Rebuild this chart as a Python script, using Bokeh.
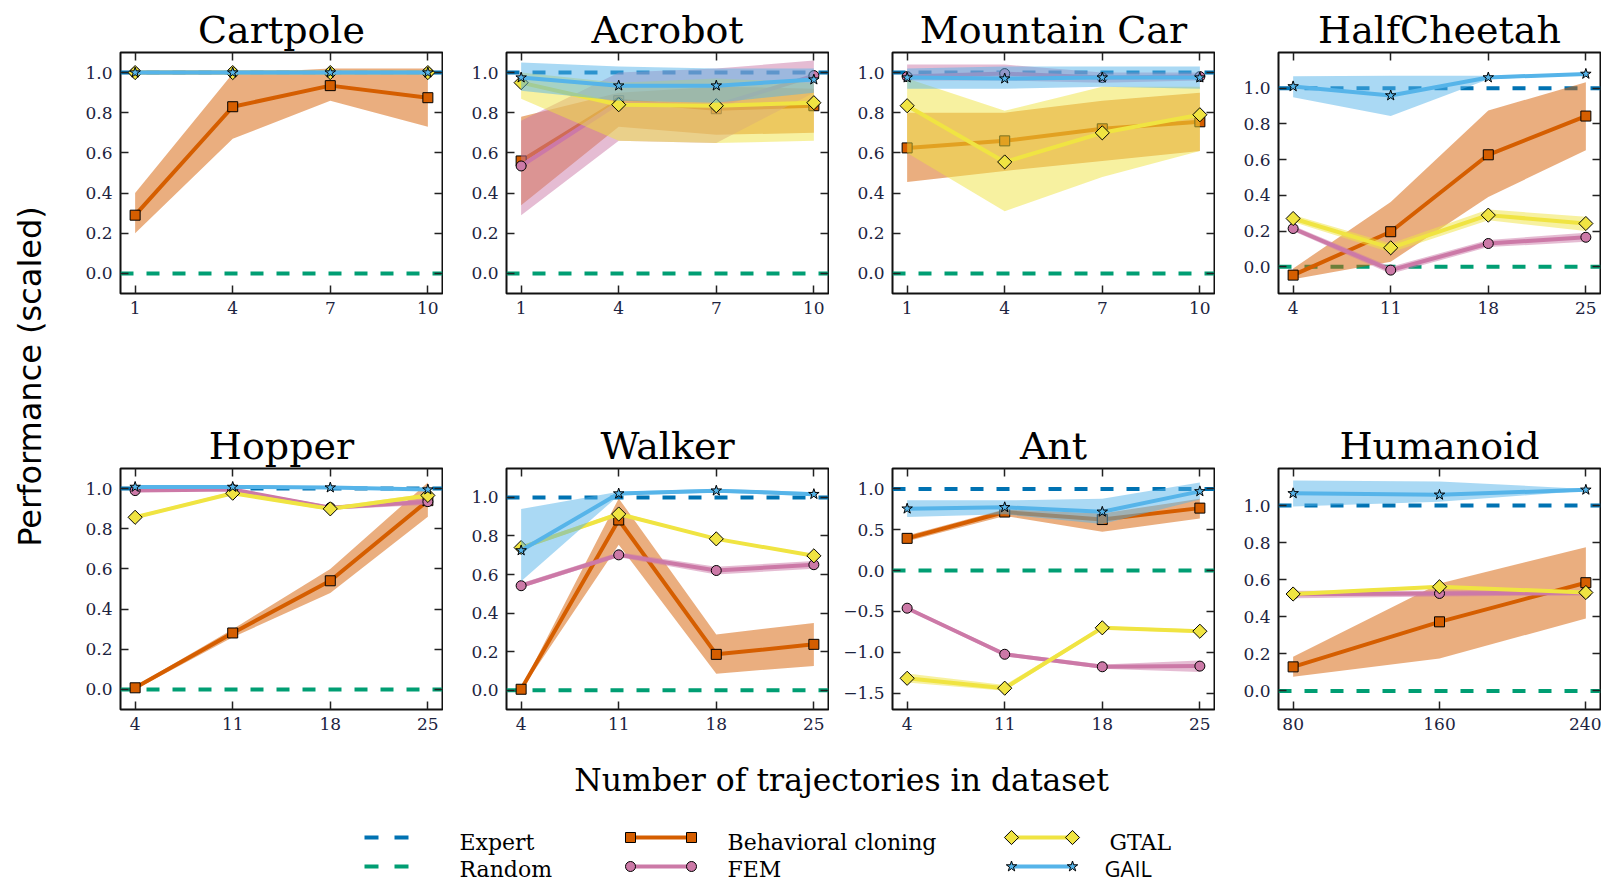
import math
from bokeh.plotting import figure
from bokeh.models import Range1d, FixedTicker, LinearAxis, CustomJSTickFormatter, Span
from bokeh.layouts import row, column
from bokeh.embed import file_html
from bokeh.resources import INLINE
from bokeh.core.properties import value

# ---------------- data ----------------
expert_level = 1.0
random_level = 0.0

env_names = ["Cartpole", "Acrobot", "Mountain Car", "HalfCheetah",
             "Hopper", "Walker", "Ant", "Humanoid"]

# Cartpole
cartpole_x = [1, 4, 7, 10]
cartpole_bc = [0.29, 0.83, 0.935, 0.875]
cartpole_bc_lo = [0.20, 0.67, 0.86, 0.73]
cartpole_bc_hi = [0.40, 0.995, 1.02, 1.02]
cartpole_fem = [1.0, 1.0, 1.0, 1.0]
cartpole_fem_lo = [0.995, 0.995, 0.995, 0.995]
cartpole_fem_hi = [1.005, 1.005, 1.005, 1.005]
cartpole_gtal = [1.0, 1.0, 1.0, 1.0]
cartpole_gtal_lo = [0.995, 0.995, 0.995, 0.995]
cartpole_gtal_hi = [1.005, 1.005, 1.005, 1.005]
cartpole_gail = [1.0, 1.0, 1.0, 1.0]
cartpole_gail_lo = [0.99, 0.99, 0.99, 0.99]
cartpole_gail_hi = [1.01, 1.01, 1.01, 1.01]

# Acrobot
acrobot_x = [1, 4, 7, 10]
acrobot_bc = [0.56, 0.86, 0.82, 0.835]
acrobot_bc_lo = [0.34, 0.73, 0.69, 0.70]
acrobot_bc_hi = [0.78, 0.90, 0.93, 0.92]
acrobot_fem = [0.535, 0.85, 0.835, 0.985]
acrobot_fem_lo = [0.29, 0.66, 0.65, 0.90]
acrobot_fem_hi = [0.76, 1.0, 1.02, 1.06]
acrobot_gtal = [0.95, 0.84, 0.835, 0.85]
acrobot_gtal_lo = [0.87, 0.66, 0.65, 0.66]
acrobot_gtal_hi = [1.0, 0.95, 0.97, 0.95]
acrobot_gail = [0.975, 0.935, 0.935, 0.965]
acrobot_gail_lo = [0.91, 0.86, 0.85, 0.90]
acrobot_gail_hi = [1.05, 1.03, 1.02, 1.02]

# Mountain Car
mcar_x = [1, 4, 7, 10]
mcar_bc = [0.625, 0.66, 0.72, 0.755]
mcar_bc_lo = [0.455, 0.51, 0.56, 0.61]
mcar_bc_hi = [0.80, 0.80, 0.86, 0.90]
mcar_fem = [0.98, 0.995, 0.975, 0.98]
mcar_fem_lo = [0.96, 0.96, 0.95, 0.96]
mcar_fem_hi = [1.04, 1.04, 1.0, 1.0]
mcar_gtal = [0.835, 0.555, 0.70, 0.79]
mcar_gtal_lo = [0.60, 0.31, 0.48, 0.61]
mcar_gtal_hi = [0.97, 0.81, 0.93, 0.93]
mcar_gail = [0.975, 0.97, 0.975, 0.975]
mcar_gail_lo = [0.92, 0.92, 0.93, 0.92]
mcar_gail_hi = [1.02, 1.03, 1.03, 1.03]

# HalfCheetah
cheetah_x = [4, 11, 18, 25]
cheetah_bc = [-0.047, 0.196, 0.627, 0.844]
cheetah_bc_lo = [-0.07, 0.028, 0.391, 0.652]
cheetah_bc_hi = [-0.01, 0.363, 0.875, 1.034]
cheetah_fem = [0.214, -0.019, 0.13, 0.165]
cheetah_fem_lo = [0.20, -0.04, 0.11, 0.14]
cheetah_fem_hi = [0.23, 0.0, 0.15, 0.19]
cheetah_gtal = [0.27, 0.106, 0.289, 0.242]
cheetah_gtal_lo = [0.25, 0.08, 0.26, 0.20]
cheetah_gtal_hi = [0.29, 0.13, 0.32, 0.28]
cheetah_gail = [1.01, 0.959, 1.06, 1.08]
cheetah_gail_lo = [0.95, 0.844, 1.05, 1.075]
cheetah_gail_hi = [1.067, 1.07, 1.07, 1.085]

# Hopper
hopper_x = [4, 11, 18, 25]
hopper_bc = [0.008, 0.281, 0.541, 0.94]
hopper_bc_lo = [0.0, 0.26, 0.48, 0.86]
hopper_bc_hi = [0.016, 0.30, 0.60, 1.03]
hopper_fem = [0.99, 0.995, 0.905, 0.935]
hopper_fem_lo = [0.985, 0.99, 0.895, 0.92]
hopper_fem_hi = [0.995, 1.0, 0.915, 0.95]
hopper_gtal = [0.857, 0.977, 0.899, 0.966]
hopper_gtal_lo = [0.85, 0.97, 0.89, 0.955]
hopper_gtal_hi = [0.865, 0.985, 0.91, 0.975]
hopper_gail = [1.008, 1.008, 1.005, 0.995]
hopper_gail_lo = [1.0, 1.0, 0.998, 0.99]
hopper_gail_hi = [1.016, 1.016, 1.012, 1.0]

# Walker
walker_x = [4, 11, 18, 25]
walker_bc = [0.005, 0.883, 0.186, 0.238]
walker_bc_lo = [0.0, 0.754, 0.086, 0.126]
walker_bc_hi = [0.01, 0.995, 0.289, 0.349]
walker_fem = [0.542, 0.702, 0.621, 0.651]
walker_fem_lo = [0.53, 0.69, 0.60, 0.63]
walker_fem_hi = [0.555, 0.715, 0.64, 0.67]
walker_gtal = [0.74, 0.914, 0.785, 0.697]
walker_gtal_lo = [0.73, 0.905, 0.78, 0.69]
walker_gtal_hi = [0.75, 0.925, 0.79, 0.705]
walker_gail = [0.725, 1.02, 1.035, 1.017]
walker_gail_lo = [0.565, 1.01, 1.025, 1.007]
walker_gail_hi = [0.94, 1.03, 1.045, 1.027]

# Ant
ant_x = [4, 11, 18, 25]
ant_bc = [0.395, 0.717, 0.625, 0.765]
ant_bc_lo = [0.36, 0.67, 0.475, 0.637]
ant_bc_hi = [0.43, 0.75, 0.70, 0.88]
ant_fem = [-0.46, -1.024, -1.177, -1.169]
ant_fem_lo = [-0.48, -1.05, -1.20, -1.24]
ant_fem_hi = [-0.44, -1.0, -1.15, -1.10]
ant_gtal = [-1.318, -1.439, -0.70, -0.742]
ant_gtal_lo = [-1.37, -1.47, -0.72, -0.76]
ant_gtal_hi = [-1.26, -1.40, -0.68, -0.72]
ant_gail = [0.758, 0.775, 0.72, 0.97]
ant_gail_lo = [0.657, 0.69, 0.57, 0.87]
ant_gail_hi = [0.86, 0.86, 0.88, 1.08]

# Humanoid
humanoid_x = [80, 160, 240]
humanoid_bc = [0.13, 0.373, 0.584]
humanoid_bc_lo = [0.076, 0.175, 0.391]
humanoid_bc_hi = [0.184, 0.58, 0.775]
humanoid_fem = [0.522, 0.526, 0.53]
humanoid_fem_lo = [0.50, 0.51, 0.515]
humanoid_fem_hi = [0.54, 0.54, 0.545]
humanoid_gtal = [0.523, 0.562, 0.531]
humanoid_gtal_lo = [0.515, 0.555, 0.525]
humanoid_gtal_hi = [0.53, 0.57, 0.537]
humanoid_gail = [1.066, 1.058, 1.085]
humanoid_gail_lo = [0.995, 1.02, 1.08]
humanoid_gail_hi = [1.135, 1.13, 1.09]

# axis limits and tick values
y_limits = [(-0.1, 1.1), (-0.1, 1.1), (-0.1, 1.1), (-0.15, 1.2),
            (-0.1, 1.1), (-0.1, 1.15), (-1.7, 1.25), (-0.1, 1.2)]
yticks_unit = [0.0, 0.2, 0.4, 0.6, 0.8, 1.0]
yticks_ant = [-1.5, -1.0, -0.5, 0.0, 0.5, 1.0]

legend_labels = ["Expert", "Random", "Behavioral cloning", "FEM", "GTAL", "GAIL"]

# ---------------- styling ----------------
EXPERT_C = "#0072B2"
RANDOM_C = "#009E73"
BC_C = "#D55E00"
FEM_C = "#CC79A7"
GTAL_C = "#F0E442"
GAIL_C = "#56B4E9"
TICK_C = "#1c2340"
SERIF = "DejaVu Serif"

MARKERS = {
    "bc": dict(marker="square", size=10, angle=0.0),
    "fem": dict(marker="circle", size=10, angle=0.0),
    "gtal": dict(marker="square", size=10, angle=math.pi / 4),
    "gail": dict(marker="star", size=11, angle=0.0),
}
COLORS = {"bc": BC_C, "fem": FEM_C, "gtal": GTAL_C, "gail": GAIL_C}

# layout (page origin is the top-left corner of the window)
YLAB_W = 57
FIG_W = 386
BORDER_L = 63
TOP_H = 416
BOT_H = 324
PAGE_H = 885
LEG_H = PAGE_H - TOP_H - BOT_H


def style_axis(ax, ticks, fmt_code, labels=True):
    ax.ticker = FixedTicker(ticks=ticks)
    ax.formatter = CustomJSTickFormatter(code=fmt_code)
    ax.axis_line_color = None
    ax.major_tick_in = 8
    ax.major_tick_out = 0
    ax.minor_tick_line_color = None
    ax.major_tick_line_color = "#222222"
    ax.major_tick_line_width = 1.5
    if labels:
        ax.major_label_text_font = SERIF
        ax.major_label_text_font_size = "17px"
        ax.major_label_text_color = TICK_C
        ax.major_label_standoff = 8
    else:
        ax.major_label_text_font_size = "1px"
        ax.major_label_standoff = 0


def make_panel(idx, xs, series, top_row):
    span = xs[-1] - xs[0]
    ylo, yhi = y_limits[idx]
    p = figure(width=FIG_W, height=TOP_H if top_row else BOT_H,
               x_range=Range1d(xs[0] - 0.05 * span, xs[-1] + 0.05 * span),
               y_range=Range1d(ylo, yhi),
               min_border_left=BORDER_L, min_border_right=1, min_border_top=52,
               min_border_bottom=123 if top_row else 31,
               output_backend="svg", toolbar_location=None,
               title=env_names[idx])
    p.title.text_font = SERIF
    p.title.text_font_size = "38px"
    p.title.text_font_style = "normal"
    p.title.text_color = "black"
    p.title.align = "center"
    p.title.standoff = 2
    p.xgrid.visible = False
    p.ygrid.visible = False
    p.outline_line_color = "#111111"
    p.outline_line_width = 2
    p.background_fill_color = "white"
    p.border_fill_color = "white"

    yticks = yticks_ant if env_names[idx] == "Ant" else yticks_unit
    yfmt = "return tick.toFixed(1).replace('-', '\u2212');"
    style_axis(p.xaxis[0], xs, "return tick.toFixed(0);")
    style_axis(p.yaxis[0], yticks, yfmt)
    right = LinearAxis()
    style_axis(right, yticks, "return '';", labels=False)
    p.add_layout(right, "right")
    top = LinearAxis()
    style_axis(top, xs, "return '';", labels=False)
    p.add_layout(top, "above")

    p.add_layout(Span(location=expert_level, dimension="width", line_color=EXPERT_C,
                      line_width=4, line_dash="13 13", level="underlay"))
    p.add_layout(Span(location=random_level, dimension="width", line_color=RANDOM_C,
                      line_width=4, line_dash="13 13", level="underlay"))

    for key, (mean, lo, hi) in series:
        c = COLORS[key]
        p.varea(x=xs, y1=lo, y2=hi, fill_color=c, fill_alpha=0.5)
        p.line(xs, mean, line_color=c, line_width=4)
        m = MARKERS[key]
        p.scatter(xs, mean, marker=m["marker"], size=m["size"], angle=m["angle"],
                  fill_color=c, line_color="black", line_width=1)
    return p


panels_data = [
    (cartpole_x, [("bc", (cartpole_bc, cartpole_bc_lo, cartpole_bc_hi)),
                  ("fem", (cartpole_fem, cartpole_fem_lo, cartpole_fem_hi)),
                  ("gtal", (cartpole_gtal, cartpole_gtal_lo, cartpole_gtal_hi)),
                  ("gail", (cartpole_gail, cartpole_gail_lo, cartpole_gail_hi))]),
    (acrobot_x, [("bc", (acrobot_bc, acrobot_bc_lo, acrobot_bc_hi)),
                 ("fem", (acrobot_fem, acrobot_fem_lo, acrobot_fem_hi)),
                 ("gtal", (acrobot_gtal, acrobot_gtal_lo, acrobot_gtal_hi)),
                 ("gail", (acrobot_gail, acrobot_gail_lo, acrobot_gail_hi))]),
    (mcar_x, [("bc", (mcar_bc, mcar_bc_lo, mcar_bc_hi)),
              ("fem", (mcar_fem, mcar_fem_lo, mcar_fem_hi)),
              ("gtal", (mcar_gtal, mcar_gtal_lo, mcar_gtal_hi)),
              ("gail", (mcar_gail, mcar_gail_lo, mcar_gail_hi))]),
    (cheetah_x, [("bc", (cheetah_bc, cheetah_bc_lo, cheetah_bc_hi)),
                 ("fem", (cheetah_fem, cheetah_fem_lo, cheetah_fem_hi)),
                 ("gtal", (cheetah_gtal, cheetah_gtal_lo, cheetah_gtal_hi)),
                 ("gail", (cheetah_gail, cheetah_gail_lo, cheetah_gail_hi))]),
    (hopper_x, [("bc", (hopper_bc, hopper_bc_lo, hopper_bc_hi)),
                ("fem", (hopper_fem, hopper_fem_lo, hopper_fem_hi)),
                ("gtal", (hopper_gtal, hopper_gtal_lo, hopper_gtal_hi)),
                ("gail", (hopper_gail, hopper_gail_lo, hopper_gail_hi))]),
    (walker_x, [("bc", (walker_bc, walker_bc_lo, walker_bc_hi)),
                ("fem", (walker_fem, walker_fem_lo, walker_fem_hi)),
                ("gtal", (walker_gtal, walker_gtal_lo, walker_gtal_hi)),
                ("gail", (walker_gail, walker_gail_lo, walker_gail_hi))]),
    (ant_x, [("bc", (ant_bc, ant_bc_lo, ant_bc_hi)),
             ("fem", (ant_fem, ant_fem_lo, ant_fem_hi)),
             ("gtal", (ant_gtal, ant_gtal_lo, ant_gtal_hi)),
             ("gail", (ant_gail, ant_gail_lo, ant_gail_hi))]),
    (humanoid_x, [("bc", (humanoid_bc, humanoid_bc_lo, humanoid_bc_hi)),
                  ("fem", (humanoid_fem, humanoid_fem_lo, humanoid_fem_hi)),
                  ("gtal", (humanoid_gtal, humanoid_gtal_lo, humanoid_gtal_hi)),
                  ("gail", (humanoid_gail, humanoid_gail_lo, humanoid_gail_hi))]),
]

figs = [make_panel(i, xs, ser, i < 4) for i, (xs, ser) in enumerate(panels_data)]

# ---------------- y label column ----------------
YL_H = TOP_H + BOT_H
ylab = figure(width=YLAB_W, height=YL_H, x_range=Range1d(0, YLAB_W), y_range=Range1d(0, YL_H),
              min_border=0, x_axis_type=None, y_axis_type=None,
              output_backend="svg", toolbar_location=None)
ylab.outline_line_color = None
ylab.grid.visible = False
ylab.text(x=[29], y=[YL_H - 376], text=["Performance (scaled)"], angle=math.pi / 2,
          text_align="center", text_baseline="middle",
          text_font=value("DejaVu Sans"), text_font_size="32px", text_color="black")

# ---------------- x label + legend ----------------
leg = figure(width=YLAB_W + 4 * FIG_W, height=LEG_H,
             x_range=Range1d(0, YLAB_W + 4 * FIG_W), y_range=Range1d(0, LEG_H),
             min_border=0, x_axis_type=None, y_axis_type=None,
             output_backend="svg", toolbar_location=None)
leg.outline_line_color = None
leg.grid.visible = False


def ly(page_y):
    return PAGE_H - page_y


leg.text(x=[841], y=[ly(779)], text=["Number of trajectories in dataset"],
         text_align="center", text_baseline="middle",
         text_font=value(SERIF), text_font_size="31.5px", text_color="black")

row1_line, row1_text = ly(837), ly(842)
row2_line, row2_text = ly(866), ly(869)

# Expert / Random dashed samples
leg.line([364, 408], [row1_line, row1_line], line_color=EXPERT_C, line_width=4, line_dash="14 16")
leg.line([364, 408], [row2_line, row2_line], line_color=RANDOM_C, line_width=4, line_dash="14 16")
leg.text(x=[459, 459], y=[row1_text, row2_text], text=[legend_labels[0], legend_labels[1]],
         text_align="left", text_baseline="middle",
         text_font=value(SERIF), text_font_size="22px", text_color="black")

# BC / FEM samples
for key, yl in (("bc", row1_line), ("fem", row2_line)):
    m = MARKERS[key]
    leg.line([630, 691], [yl, yl], line_color=COLORS[key], line_width=4)
    leg.scatter([630, 691], [yl, yl], marker=m["marker"], size=m["size"], angle=m["angle"],
                fill_color=COLORS[key], line_color="black", line_width=1)
leg.text(x=[727, 727], y=[row1_text, row2_text], text=[legend_labels[2], legend_labels[3]],
         text_align="left", text_baseline="middle",
         text_font=value(SERIF), text_font_size="22px", text_color="black")

# GTAL / GAIL samples
for key, yl in (("gtal", row1_line), ("gail", row2_line)):
    m = MARKERS[key]
    leg.line([1011, 1072], [yl, yl], line_color=COLORS[key], line_width=4)
    leg.scatter([1011, 1072], [yl, yl], marker=m["marker"], size=m["size"], angle=m["angle"],
                fill_color=COLORS[key], line_color="black", line_width=1)
leg.text(x=[1109], y=[row1_text], text=[legend_labels[4]],
         text_align="left", text_baseline="middle",
         text_font=value(SERIF), text_font_size="22px", text_color="black")
leg.text(x=[1104], y=[ly(867)], text=[legend_labels[5]],
         text_align="left", text_baseline="middle",
         text_font=value("Open Sans"), text_font_size="22px", text_color="black")

grid = column(row(*figs[:4]), row(*figs[4:]))
page = column(row(ylab, grid), leg)

open("out.html", "w").write(file_html(page, INLINE))
